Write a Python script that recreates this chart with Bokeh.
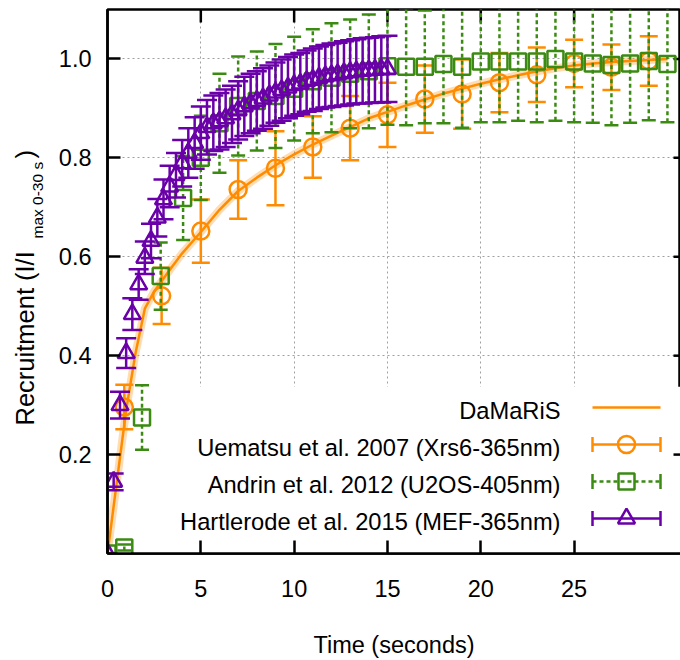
import math
from bokeh.plotting import figure
from bokeh.layouts import row
from bokeh.models import FixedTicker, NumeralTickFormatter, BoxAnnotation, Label
from bokeh.embed import file_html
from bokeh.resources import INLINE

# ---------------- data ----------------
model_t = [0, 0.5, 1, 1.5, 2, 2.5, 3, 3.5, 4, 5, 6, 7, 8, 9, 10, 11, 12, 13, 14, 15,
           16, 17, 18, 19, 20, 21, 22, 23, 24, 25, 26, 27, 28, 29, 30]
model_y = [0, 0.145, 0.29, 0.405, 0.495, 0.53, 0.556, 0.582, 0.607, 0.65, 0.695, 0.733,
           0.76, 0.785, 0.807, 0.827, 0.845, 0.862, 0.88, 0.893, 0.906, 0.918, 0.93, 0.94,
           0.95, 0.959, 0.967, 0.975, 0.981, 0.987, 0.991, 0.994, 0.996, 0.998, 1.0]

ue_t = [0.9, 2.9, 5, 7, 9, 11, 13, 15, 17, 19, 21, 23, 25, 27, 29]
ue_y = [0.296, 0.521, 0.652, 0.736, 0.779, 0.822, 0.860, 0.887, 0.919, 0.929, 0.952,
        0.968, 0.991, 0.983, 0.996]
ue_err = [0.045, 0.057, 0.064, 0.059, 0.075, 0.062, 0.065, 0.065, 0.068, 0.07, 0.06,
          0.055, 0.048, 0.046, 0.05]

an_t = [0, 0.9, 1.85, 2.85, 4.05, 5, 6, 7, 8, 9, 10, 11, 12, 13, 14, 15, 16, 17, 18, 19,
        20, 21, 22, 23, 24, 25, 26, 27, 28, 29, 30]
an_y = [0, 0.012, 0.275, 0.561, 0.719, 0.80, 0.87, 0.905, 0.915, 0.925, 0.94, 0.955,
        0.962, 0.97, 0.975, 0.985, 0.984, 0.984, 0.99, 0.984, 0.995, 0.995, 0.995, 0.995,
        1.0, 0.995, 0.991, 0.988, 0.991, 0.996, 0.99]
an_err = [0, 0.006, 0.065, 0.068, 0.085, 0.085, 0.10, 0.10, 0.10, 0.105, 0.105, 0.105,
          0.11, 0.11, 0.115, 0.118, 0.118, 0.114, 0.12, 0.123, 0.123, 0.123, 0.12, 0.123,
          0.125, 0.123, 0.12, 0.122, 0.12, 0.12, 0.118]

ha_t = [0, 0.33, 0.67, 1.0, 1.33, 1.67, 2.0, 2.33, 2.67, 3.0, 3.33, 3.67, 4.0, 4.33,
        4.67, 5.0, 5.33, 5.67, 6.0, 6.33, 6.67, 7.0, 7.33, 7.67, 8.0, 8.33, 8.67, 9.0,
        9.33, 9.67, 10.0, 10.33, 10.67, 11.0, 11.33, 11.67, 12.0, 12.33, 12.67, 13.0,
        13.33, 13.67, 14.0, 14.33, 14.67, 15.0]
ha_y = [0, 0.145, 0.30, 0.405, 0.484, 0.544, 0.598, 0.632, 0.679, 0.716, 0.742, 0.765,
        0.789, 0.81, 0.83, 0.85, 0.862, 0.87, 0.874, 0.88, 0.888, 0.896, 0.904, 0.91,
        0.915, 0.92, 0.926, 0.932, 0.937, 0.942, 0.947, 0.95, 0.955, 0.958, 0.962, 0.965,
        0.967, 0.969, 0.971, 0.973, 0.975, 0.976, 0.977, 0.978, 0.979, 0.98]
ha_err = [0, 0.017, 0.027, 0.03, 0.032, 0.031, 0.033, 0.035, 0.038, 0.04, 0.042, 0.045,
          0.047, 0.05, 0.052, 0.054, 0.055, 0.056, 0.057, 0.058, 0.058, 0.059, 0.06, 0.06,
          0.06, 0.061, 0.061, 0.061, 0.062, 0.062, 0.062, 0.062, 0.062, 0.063, 0.063,
          0.063, 0.064, 0.064, 0.065, 0.065, 0.065, 0.066, 0.066, 0.066, 0.067, 0.067]

x_ticks = [0, 5, 10, 15, 20, 25]
x_grid = [5, 10, 15, 20, 25]
y_ticks = [0.2, 0.4, 0.6, 0.8, 1.0]
legend_labels = ["DaMaRiS", "Uematsu et al. 2007 (Xrs6-365nm)",
                 "Andrin et al. 2012 (U2OS-405nm)", "Hartlerode et al. 2015 (MEF-365nm)"]
x_title = "Time (seconds)"
y_title_main = "Recruitment (I/I"
y_title_sub = "max 0-30 s"
y_title_end = ")"

# ---------------- style / layout ----------------
ORANGE = "#ff8c00"
GREEN = "#3b8b12"
PURPLE = "#6a00a8"
FONT = "Liberation Sans"
FS = "23.5px"
W, H = 680, 660
TW = 50                      # width of the strip holding the y title
AX_PX = 107                  # page column of the y axis
T, B = 9, 107
X_END, Y_END = 30.7, 1.1
LW = 2.5
TICK = 13

# ---- strip with the rotated y-axis title (needs a subscript) ----
# its frame is aligned with the main frame (page rows T .. H-B); data y = H - page row
tf = figure(width=TW, height=H, x_range=(0, TW), y_range=(B, H - T), output_backend="svg",
            toolbar_location=None, min_border=0, min_border_top=T, min_border_bottom=B,
            outline_line_color=None, x_axis_type=None, y_axis_type=None,
            background_fill_color="white", border_fill_color="white")
tf.grid.visible = False
tf.add_layout(Label(x=24, y=H - 425, text=y_title_main, angle=math.pi / 2,
                    text_align="left", text_baseline="middle", text_font=FONT,
                    text_font_size="25.5px", text_color="black"))
tf.add_layout(Label(x=37, y=H - 238, text=y_title_sub, angle=math.pi / 2,
                    text_align="left", text_baseline="middle", text_font=FONT,
                    text_font_size="15.5px", text_color="black"))
tf.add_layout(Label(x=24, y=H - 158, text=y_title_end, angle=math.pi / 2,
                    text_align="left", text_baseline="middle", text_font=FONT,
                    text_font_size="25.5px", text_color="black"))

# ---- main plot ----
p = figure(width=W - TW, height=H, x_range=(0, X_END), y_range=(0, Y_END),
           output_backend="svg", toolbar_location=None,
           min_border_left=AX_PX - TW, min_border_right=0, min_border_top=T,
           min_border_bottom=B, outline_line_color="black", outline_line_width=LW,
           background_fill_color="white", border_fill_color="white")

fw = W - AX_PX
fh = H - T - B


def px_x(px):
    return (px - AX_PX) / fw * X_END


def py_y(py):
    return (H - B - py) / fh * Y_END


xa = p.xaxis[0]
xa.ticker = FixedTicker(ticks=x_ticks)
ya = p.yaxis[0]
ya.ticker = FixedTicker(ticks=y_ticks)
ya.formatter = NumeralTickFormatter(format="0.0")
for ax in (xa, ya):
    ax.major_tick_in = TICK
    ax.major_tick_out = 0
    ax.minor_tick_line_color = None
    ax.axis_line_width = LW
    ax.major_tick_line_width = LW
    ax.axis_line_color = "black"
    ax.major_tick_line_color = "black"
    ax.major_label_text_font = FONT
    ax.major_label_text_font_size = FS
    ax.major_label_text_color = "black"
xa.major_label_standoff = 26
ya.major_label_standoff = 16
xa.axis_label = x_title
xa.axis_label_text_font = FONT
xa.axis_label_text_font_size = FS
xa.axis_label_text_font_style = "normal"
xa.axis_label_text_color = "black"
xa.axis_label_standoff = 32

# mirrored ticks on the top border and the right border
tick_dy = TICK / fh * Y_END
tick_dx = 7 / fw * X_END
p.segment(x0=x_grid, y0=[Y_END] * len(x_grid), x1=x_grid,
          y1=[Y_END - tick_dy] * len(x_grid), line_color="black", line_width=LW)
p.segment(x0=[X_END] * len(y_ticks), y0=y_ticks, x1=[X_END - tick_dx] * len(y_ticks),
          y1=y_ticks, line_color="black", line_width=LW)

# grid
p.xgrid.ticker = FixedTicker(ticks=x_grid)
p.ygrid.ticker = FixedTicker(ticks=y_ticks)
for g in (p.xgrid[0], p.ygrid[0]):
    g.grid_line_color = "#a0a0a0"
    g.grid_line_dash = "2 3"
    g.grid_line_width = 1

# opaque key area hides the grid
p.add_layout(BoxAnnotation(left=0.5, top=0.337, fill_color="white", fill_alpha=1.0,
                           line_color=None, level="underlay"))

# model curve
p.line(model_t, model_y, line_color=ORANGE, line_width=8, line_alpha=0.3)
p.line(model_t, model_y, line_color=ORANGE, line_width=LW)


def errbars(t, y, e, color, cap, dash, marker, msize):
    tt = [a for a, b in zip(t, e) if b > 0]
    lo = [a - b for a, b in zip(y, e) if b > 0]
    hi = [a + b for a, b in zip(y, e) if b > 0]
    p.segment(x0=tt, y0=lo, x1=tt, y1=hi, line_color=color, line_width=LW,
              line_dash=dash)
    p.scatter(x=tt + tt, y=lo + hi, marker="dash", size=cap, line_color=color,
              line_width=LW)
    p.scatter(x=t, y=y, marker=marker, size=msize, fill_color=None, line_color=color,
              line_width=LW)


errbars(ue_t, ue_y, ue_err, ORANGE, 18, "solid", "circle", 17)
errbars(an_t, an_y, an_err, GREEN, 14, "4 3", "square", 16)
errbars(ha_t, ha_y, ha_err, PURPLE, 20, "solid", "triangle", 17)

# key (text right-aligned, sample on the right like the reference)
rows = [407, 444, 481, 518]
TX, S0, S1 = 560, 592, 660
SC = (S0 + S1) / 2
for lab, ry in zip(legend_labels, rows):
    p.add_layout(Label(x=px_x(TX), y=py_y(ry + 3), text=lab, text_align="right",
                       text_baseline="middle", text_font=FONT, text_font_size="23.7px",
                       text_color="black"))

key_y = [py_y(r) for r in rows]
p.line([px_x(S0), px_x(S1)], [key_y[0], key_y[0]], line_color=ORANGE, line_width=LW)
for i, (col, dash, mk, ms) in enumerate([(ORANGE, "solid", "circle", 17),
                                         (GREEN, "4 3", "square", 16),
                                         (PURPLE, "solid", "triangle", 17)]):
    yy = key_y[i + 1]
    p.segment(x0=[px_x(S0)], y0=[yy], x1=[px_x(S1)], y1=[yy], line_color=col,
              line_width=LW, line_dash=dash)
    p.scatter(x=[px_x(S0), px_x(S1)], y=[yy, yy], marker="dash", angle=math.pi / 2,
              size=15, line_color=col, line_width=LW)
    p.scatter(x=[px_x(SC)], y=[yy], marker=mk, size=ms, fill_color=None,
              line_color=col, line_width=LW)

layout = row(tf, p, spacing=0)
open("out.html", "w").write(file_html(layout, INLINE))
